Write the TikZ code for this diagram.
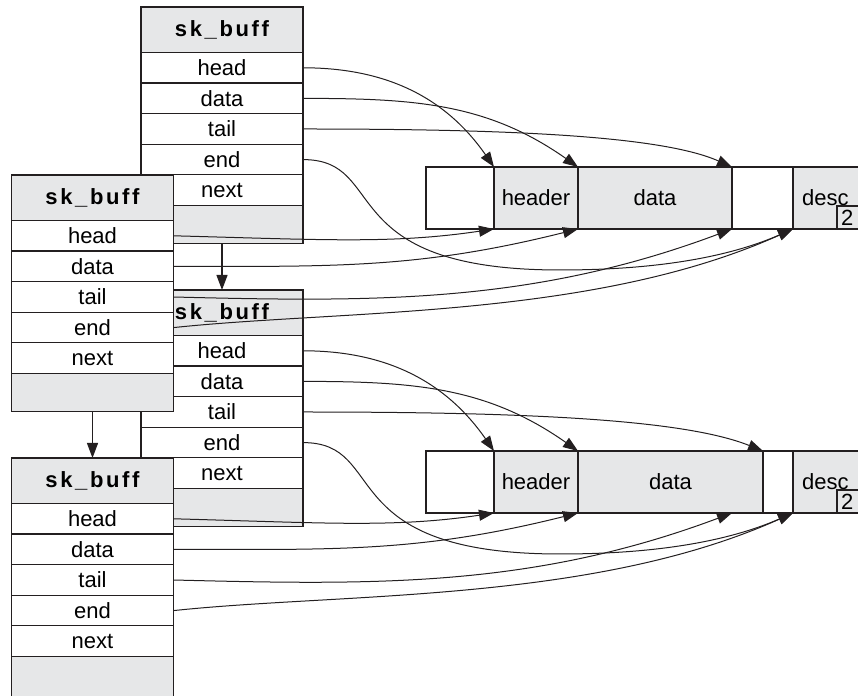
\documentclass[tikz,border=0pt]{standalone}
\usepackage{fontspec}
\setmainfont{Liberation Sans}
\newfontfamily\titlefamily[LetterSpace=12]{Liberation Sans}
\usepackage{xcolor}
\usetikzlibrary{
    arrows.meta,
    positioning,
    calc
}
\definecolor{cellgray}{RGB}{230,231,232}
\definecolor{linecol}{RGB}{35,31,32}
\tikzset{
    field/.style={
        draw=linecol,
        line width=1.2pt,
        fill=white,
        minimum width=162pt,
        minimum height=30.6pt,
        inner sep=0pt,
        outer sep=0pt,
        font=\fontsize{22}{26}\selectfont
    }
}
\tikzset{
    titlecell/.style={
        field,
        fill=cellgray,
        minimum height=45.5pt,
        font=\fontsize{22}{26}\selectfont\titlefamily\bfseries
    }
}
\tikzset{
    padcell/.style={
        field,
        fill=cellgray,
        minimum height=38pt
    }
}
\tikzset{
    bufcell/.style={
        draw=linecol,
        line width=1.2pt,
        fill=white,
        minimum height=62pt,
        inner sep=0pt,
        outer sep=0pt,
        anchor=north west,
        font=\fontsize{22}{26}\selectfont
    }
}
\tikzset{
    countbox/.style={
        draw=linecol,
        line width=1.2pt,
        fill=cellgray,
        minimum height=23pt,
        inner xsep=4pt,
        inner ysep=0pt,
        outer sep=0pt,
        text width=22pt,
        align=left,
        font=\fontsize{22}{26}\selectfont
    }
}
\tikzset{
    ptr/.style={
        draw=linecol,
        line width=1pt,
        -{Triangle[length=15pt,width=11pt]}
    }
}

\begin{document}
\begin{tikzpicture}[
    x=1pt,
    y=1pt
]
\useasboundingbox (0,0) rectangle (858,695);

% =========================================================
% sk_buff (upper, back)
% =========================================================

\node[titlecell, anchor=north] (a-title) at (222,688) {sk\_buff};
\node[field, below=0pt of a-title] (a-head) {head};
\node[field, below=0pt of a-head] (a-data) {data};
\node[field, below=0pt of a-data] (a-tail) {tail};
\node[field, below=0pt of a-tail] (a-end) {end};
\node[field, below=0pt of a-end] (a-next) {next};
\node[padcell, below=0pt of a-next] (a-pad) {};

% =========================================================
% sk_buff (lower, back)
% =========================================================

\node[titlecell, anchor=north] (c-title) at (222,405) {sk\_buff};
\node[field, below=0pt of c-title] (c-head) {head};
\node[field, below=0pt of c-head] (c-data) {data};
\node[field, below=0pt of c-data] (c-tail) {tail};
\node[field, below=0pt of c-tail] (c-end) {end};
\node[field, below=0pt of c-end] (c-next) {next};
\node[padcell, below=0pt of c-next] (c-pad) {};

% =========================================================
% sk_buff (upper, front)
% =========================================================

\node[titlecell, anchor=north] (b-title) at (92.5,520) {sk\_buff};
\node[field, below=0pt of b-title] (b-head) {head};
\node[field, below=0pt of b-head] (b-data) {data};
\node[field, below=0pt of b-data] (b-tail) {tail};
\node[field, below=0pt of b-tail] (b-end) {end};
\node[field, below=0pt of b-end] (b-next) {next};
\node[padcell, below=0pt of b-next] (b-pad) {};

% =========================================================
% sk_buff (lower, front)
% =========================================================

\node[titlecell, anchor=north] (d-title) at (92.5,237) {sk\_buff};
\node[field, below=0pt of d-title] (d-head) {head};
\node[field, below=0pt of d-head] (d-data) {data};
\node[field, below=0pt of d-data] (d-tail) {tail};
\node[field, below=0pt of d-tail] (d-end) {end};
\node[field, below=0pt of d-end] (d-next) {next};
\node[padcell, minimum height=60pt, below=0pt of d-next] (d-pad) {};

% next links
\draw[ptr, line width=1.2pt] (a-pad.south) -- (c-title.north);
\draw[ptr, line width=1.2pt] (b-pad.south) -- (d-title.north);

% =========================================================
% Buffers
% =========================================================

\node[bufcell, minimum width=68pt] (t-pre) at (426,528) {};
\node[bufcell, fill=cellgray, minimum width=84pt, right=0pt of t-pre] (t-header) {header};
\node[bufcell, fill=cellgray, minimum width=154pt, right=0pt of t-header] (t-data) {data};
\node[bufcell, minimum width=61pt, right=0pt of t-data] (t-post) {};
\node[bufcell, fill=cellgray, minimum width=80pt, right=0pt of t-post] (t-desc) {};
\node[anchor=west, inner sep=0pt, font=\fontsize{22}{26}\selectfont] (t-label) at ([xshift=9pt]t-desc.west) {desc};
\node[countbox, anchor=south west] (t-count) at ([xshift=44pt]t-desc.south west) {2};

\node[bufcell, minimum width=68pt] (u-pre) at (426,244) {};
\node[bufcell, fill=cellgray, minimum width=84pt, right=0pt of u-pre] (u-header) {header};
\node[bufcell, fill=cellgray, minimum width=185pt, right=0pt of u-header] (u-data) {data};
\node[bufcell, minimum width=30pt, right=0pt of u-data] (u-post) {};
\node[bufcell, fill=cellgray, minimum width=80pt, right=0pt of u-post] (u-desc) {};
\node[anchor=west, inner sep=0pt, font=\fontsize{22}{26}\selectfont] (u-label) at ([xshift=9pt]u-desc.west) {desc};
\node[countbox, anchor=south west] (u-count) at ([xshift=44pt]u-desc.south west) {2};

\coordinate (u-mark) at ([xshift=-31pt]u-data.south east);
\coordinate (a-dip) at (560,425);
\coordinate (c-dip) at (560,141);

% =========================================================
% Pointers, upper group
% =========================================================

\draw[ptr] (a-head.east) .. controls +(84,0) and +(-48,69) .. (t-header.north west);
\draw[ptr] (a-data.east) .. controls +(111,0) and +(-91,64) .. (t-data.north west);
\draw[ptr] (a-tail.east) .. controls +(197,0) and +(-72,32) .. (t-post.north west);
\draw[ptr] (a-end.east) .. controls +(87,0) and +(-230,0) .. (a-dip)
    .. controls +(120,0) and +(-48,-21) .. (t-desc.south west);

\draw[ptr] (b-head.east) .. controls +(150,-4) and +(-100,-15) .. (t-header.south west);
\draw[ptr] (b-data.east) .. controls +(160,0) and +(-160,-40) .. (t-data.south west);
\draw[ptr] (b-tail.east) .. controls +(200,-5) and +(-200,-75) .. (t-post.south west);
\draw[ptr] (b-end.east) .. controls +(170,18) and +(-200,-90) .. (t-desc.south west);

% =========================================================
% Pointers, lower group
% =========================================================

\draw[ptr] (c-head.east) .. controls +(84,0) and +(-48,69) .. (u-header.north west);
\draw[ptr] (c-data.east) .. controls +(111,0) and +(-91,64) .. (u-data.north west);
\draw[ptr] (c-tail.east) .. controls +(220,0) and +(-80,32) .. (u-post.north west);
\draw[ptr] (c-end.east) .. controls +(87,0) and +(-230,0) .. (c-dip)
    .. controls +(120,0) and +(-48,-21) .. (u-desc.south west);

\draw[ptr] (d-head.east) .. controls +(150,-4) and +(-100,-15) .. (u-header.south west);
\draw[ptr] (d-data.east) .. controls +(160,0) and +(-160,-40) .. (u-data.south west);
\draw[ptr] (d-tail.east) .. controls +(200,-5) and +(-200,-75) .. (u-mark);
\draw[ptr] (d-end.east) .. controls +(170,18) and +(-200,-90) .. (u-desc.south west);

\end{tikzpicture}
\end{document}
